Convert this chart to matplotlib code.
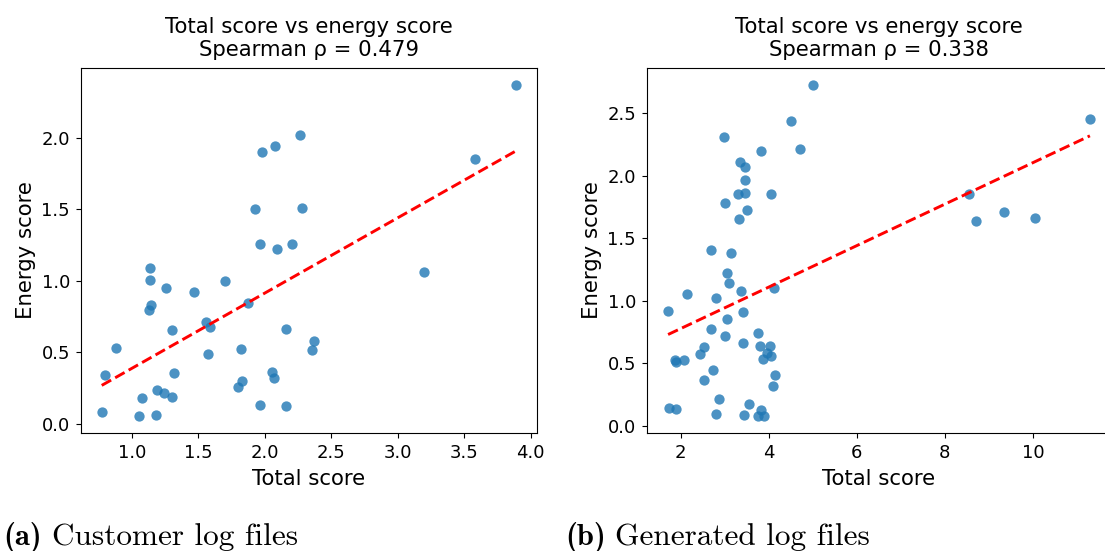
import numpy as np
import matplotlib
matplotlib.use("Agg")
import matplotlib.pyplot as plt

# customer log files (total score, energy score)
cust_total = [3.892, 2.268, 2.077, 1.976, 3.578, 1.929, 2.283, 1.964, 2.092, 2.205,
              3.194, 1.133, 1.133, 1.254, 1.469, 1.703, 1.873, 1.141, 1.131, 1.557,
              1.587, 1.304, 2.157, 2.368, 2.355, 0.877, 1.821, 1.572, 0.794, 1.316,
              2.054, 2.072, 1.831, 1.798, 1.186, 1.241, 1.299, 1.073, 0.772, 1.055,
              1.178, 1.966, 2.160]
cust_energy = [2.372, 2.019, 1.942, 1.902, 1.849, 1.500, 1.509, 1.260, 1.223, 1.256,
               1.060, 1.091, 1.007, 0.951, 0.921, 1.002, 0.847, 0.830, 0.798, 0.714,
               0.679, 0.660, 0.665, 0.581, 0.519, 0.533, 0.523, 0.488, 0.344, 0.358,
               0.363, 0.321, 0.302, 0.258, 0.237, 0.219, 0.191, 0.181, 0.086, 0.053,
               0.065, 0.130, 0.126]

# generated log files
gen_total = [5.013, 4.513, 11.296, 4.703, 2.977, 3.832, 3.355, 3.469, 3.469, 3.294,
             3.469, 4.059, 2.999, 3.514, 3.317, 8.540, 8.707, 9.335, 10.047, 2.681,
             3.143, 3.045, 3.090, 2.136, 3.363, 2.810, 4.112, 1.712, 3.416, 3.052,
             2.696, 3.007, 3.756, 2.537, 3.416, 3.802, 4.029, 2.439, 3.968, 4.044,
             3.862, 1.864, 1.902, 2.083, 2.734, 2.537, 4.150, 4.104, 2.878, 3.544,
             1.735, 1.894, 2.810, 3.446, 3.824, 3.756, 3.885]
gen_energy = [2.726, 2.434, 2.450, 2.213, 2.309, 2.197, 2.105, 2.065, 1.961, 1.850,
              1.860, 1.852, 1.783, 1.722, 1.653, 1.852, 1.635, 1.712, 1.659, 1.404,
              1.385, 1.221, 1.146, 1.054, 1.075, 1.022, 1.099, 0.918, 0.910, 0.852,
              0.775, 0.719, 0.746, 0.634, 0.661, 0.637, 0.637, 0.579, 0.584, 0.563,
              0.539, 0.525, 0.512, 0.528, 0.449, 0.369, 0.411, 0.321, 0.212, 0.175,
              0.141, 0.138, 0.098, 0.088, 0.125, 0.082, 0.077]

rhos = ["0.479", "0.338"]
captions = [("(a)", "Customer log files"), ("(b)", "Generated log files")]

fig = plt.figure(figsize=(11.05, 5.51), dpi=100)
ax1 = fig.add_axes([81/1105, 118/551, 456/1105, 365/551])
ax2 = fig.add_axes([647/1105, 118/551, 464/1105, 365/551])

for ax, x, y, rho in [(ax1, cust_total, cust_energy, rhos[0]),
                      (ax2, gen_total, gen_energy, rhos[1])]:
    x = np.array(x)
    y = np.array(y)
    ax.scatter(x, y, s=55, color='tab:blue', alpha=0.8, linewidths=0)
    m, b = np.polyfit(x, y, 1)
    xs = np.array([x.min(), x.max()])
    ax.plot(xs, m*xs + b, color='red', linestyle='--', linewidth=2.1)
    ax.set_title('Total score vs energy score\nSpearman \u03c1 = ' + rho,
                 fontsize=15.3, pad=9, linespacing=1.17)
    ax.set_xlabel('Total score', fontsize=15.3, labelpad=5)
    ax.set_ylabel('Energy score', fontsize=15.3)
    ax.tick_params(labelsize=13, pad=4.5)

ax1.set_xticks([1.0, 1.5, 2.0, 2.5, 3.0, 3.5, 4.0])
ax1.set_yticks([0.0, 0.5, 1.0, 1.5, 2.0])
ax2.set_xticks([2, 4, 6, 8, 10])
ax2.set_yticks([0.0, 0.5, 1.0, 1.5, 2.0, 2.5])

# subfigure captions
for xpos, xtxt, (lab, txt) in zip([3, 565], [52, 615], captions):
    fig.text(xpos/1105, 6/551, lab, fontfamily='cmb10', fontsize=22, va='baseline')
    fig.text(xtxt/1105, 6/551, txt, fontfamily='cmr10', fontsize=22.5, va='baseline')

fig.savefig('out.png', dpi=100)
